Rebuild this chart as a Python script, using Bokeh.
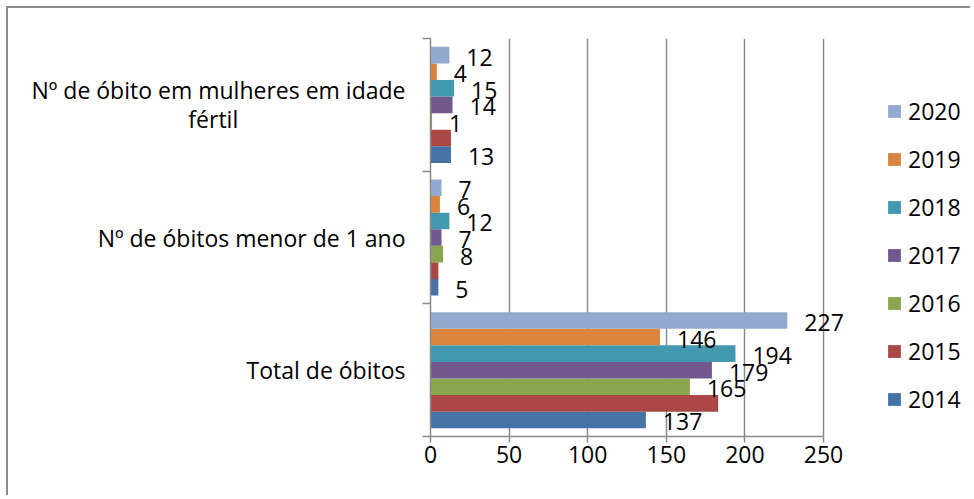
from bokeh.plotting import figure
from bokeh.models import (ColumnDataSource, Range1d, FixedTicker, Legend,
                          LegendItem, LabelSet)
from bokeh.core.properties import value
from bokeh.transform import dodge
from bokeh.embed import file_html
from bokeh.resources import INLINE

categories = ["Total de óbitos", "Nº de óbitos menor de 1 ano",
              "Nº de óbito em mulheres em idade\nfértil"]
years = ["2014", "2015", "2016", "2017", "2018", "2019", "2020"]
v2014 = [137, 5, 13]
v2015 = [183, 5, 13]
v2016 = [165, 8, 1]
v2017 = [179, 7, 14]
v2018 = [194, 12, 15]
v2019 = [146, 6, 4]
v2020 = [227, 7, 12]
series = [v2014, v2015, v2016, v2017, v2018, v2019, v2020]
colors = ["#4572A7", "#AA4643", "#89A54E", "#71588F", "#4198AF", "#DB843D", "#93A9CF"]
x_ticks = [0, 50, 100, 150, 200, 250]
show_labels = [True, False, True, True, True, True, True]

FONT = "Open Sans"
FS = "23px"
GRID = "#8a8a8a"

# second line of the two-line category is centred under the first line
def centre_lines(label):
    lines = label.split("\n")
    if len(lines) == 1:
        return label
    return lines[0] + "\n" + lines[1] + "\u00a0" * 28

p = figure(width=964, height=489, output_backend="svg", toolbar_location=None,
           x_range=Range1d(0, 343.5), y_range=Range1d(0, 3),
           min_border_left=422, min_border_right=2, min_border_top=30,
           min_border_bottom=61)
p.styles = {"margin-left": "6px", "margin-top": "6px",
            "border-left": "2px solid #8c8c8c", "border-top": "2px solid #8c8c8c"}
p.outline_line_color = None
p.background_fill_color = "white"
p.border_fill_color = "white"

pos = [i + 0.5 for i in range(len(categories))]
data = {"pos": pos}
for yr, vals in zip(years, series):
    data["v" + yr] = vals
    data["t" + yr] = [str(v) for v in vals]
src = ColumnDataSource(data)

h = 0.125
renderers = []
for i, (yr, col) in enumerate(zip(years, colors)):
    off = (i - 3) * h
    r = p.hbar(y=dodge("pos", off, range=p.y_range), right="v" + yr, left=0,
               height=h, source=src, fill_color=col, line_color=None)
    renderers.append(r)
    if show_labels[i]:
        ls = LabelSet(x="v" + yr, y=dodge("pos", off, range=p.y_range),
                      text="t" + yr, source=src, x_offset=17, y_offset=-2,
                      text_font=value(FONT), text_font_size=value(FS),
                      text_color="black", text_baseline="middle", text_align="left")
        p.add_layout(ls)

# x axis
p.xaxis.ticker = FixedTicker(ticks=x_ticks)
p.xaxis.bounds = (0, 250)
p.xaxis.axis_line_color = GRID
p.xaxis.axis_line_width = 1.5
p.xaxis.major_tick_line_color = GRID
p.xaxis.major_tick_line_width = 1.5
p.xaxis.major_tick_out = 6
p.xaxis.major_tick_in = 0
p.xaxis.minor_tick_line_color = None
p.xaxis.major_label_text_font = FONT
p.xaxis.major_label_text_font_size = FS
p.xaxis.major_label_text_color = "black"
p.xaxis.major_label_standoff = 3

p.xgrid.ticker = FixedTicker(ticks=x_ticks[1:])
p.xgrid.grid_line_color = GRID
p.xgrid.grid_line_width = 1.5
p.ygrid.grid_line_color = None

# y axis: category names as major labels, boundaries as minor ticks
p.yaxis.ticker = FixedTicker(ticks=pos, minor_ticks=[0, 1, 2, 3])
p.yaxis.major_label_overrides = {pos[i]: centre_lines(c) for i, c in enumerate(categories)}
p.yaxis.major_label_text_font = FONT
p.yaxis.major_label_text_font_size = FS
p.yaxis.major_label_text_color = "black"
p.yaxis.major_label_text_line_height = 0.9
p.yaxis.major_label_standoff = 17
p.yaxis.major_tick_line_color = None
p.yaxis.axis_line_color = GRID
p.yaxis.axis_line_width = 1.5
p.yaxis.minor_tick_line_color = GRID
p.yaxis.minor_tick_line_width = 1.5
p.yaxis.minor_tick_out = 8
p.yaxis.minor_tick_in = 0

items = [LegendItem(label=yr, renderers=[r]) for yr, r in zip(years, renderers)][::-1]
leg = Legend(items=items, location=(456, 21), padding=0, margin=0, spacing=16,
             glyph_width=16, glyph_height=16, label_standoff=6,
             label_text_font=FONT, label_text_font_size=FS, label_text_color="black",
             border_line_color=None, background_fill_alpha=0)
p.add_layout(leg)

open("out.html", "w").write(file_html(p, INLINE))
